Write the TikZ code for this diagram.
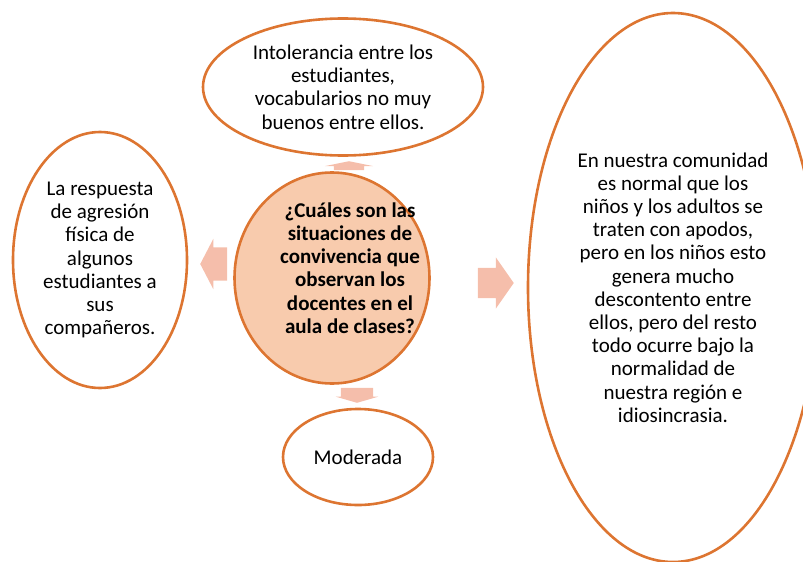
\documentclass[tikz,border=0pt]{standalone}
\usepackage{fontspec}
\setmainfont{Carlito}
\usetikzlibrary{shapes.geometric,shapes.arrows}
\definecolor{LineOrange}{HTML}{DD7531}
\definecolor{CoreFill}{HTML}{F8CBAD}
\definecolor{ArrowPink}{HTML}{F5BEAB}

\begin{document}
\begin{tikzpicture}[x=1pt,y=-1pt,
  every node/.style={font=\fontsize{21}{23.2}\selectfont},
  burbuja/.style={ellipse, draw=LineOrange, line width=2.6pt, align=center, inner sep=0pt},
  flecha/.style={single arrow, draw=none, fill=ArrowPink, inner sep=0pt, minimum width=0pt, anchor=tip}]
  \useasboundingbox (0,0) rectangle (803,562);
  \node[burbuja, minimum width=280, minimum height=137] (arriba) at (343,87)
    {Intolerancia entre los\\estudiantes,\\vocabularios no muy\\buenos entre ellos.};
  \node[burbuja, minimum width=174, minimum height=256] (izq) at (100,260)
    {La respuesta\\de agresión\\física de\\algunos\\estudiantes a\\sus\\compañeros.};
  \node[burbuja, minimum width=290, minimum height=549] (der) at (673,287.5)
    {En nuestra comunidad\\es normal que los\\niños y los adultos se\\traten con apodos,\\pero en los niños esto\\genera mucho\\descontento entre\\ellos, pero del resto\\todo ocurre bajo la\\normalidad de\\nuestra región e\\idiosincrasia.};
  \node[burbuja, minimum width=150, minimum height=96] (abajo) at (358,457) {Moderada};
  \node[burbuja, fill=CoreFill, minimum width=195, minimum height=211] (pregunta) at (332,278) {};
  \node[align=center, font=\fontsize{21}{23.2}\selectfont\bfseries] (preguntatxt) at (350,268)
    {¿Cuáles son las\\situaciones de\\convivencia que\\observan los\\docentes en el\\aula de clases?};
  \node[flecha, rotate=90, inner ysep=15pt, single arrow head extend=9pt,
    single arrow tip angle=157, minimum height=9pt] (fArriba) at (349,161) {};
  \node[flecha, rotate=180, inner ysep=16.5pt, single arrow head extend=8.5pt,
    single arrow tip angle=125, minimum height=27pt] (fIzq) at (200,264) {};
  \node[flecha, inner ysep=15pt, single arrow head extend=10.5pt,
    single arrow tip angle=110, minimum height=36pt] (fDer) at (514,283) {};
  \node[flecha, rotate=-90, inner ysep=16pt, single arrow head extend=5pt,
    single arrow tip angle=148, minimum height=15pt] (fAbajo) at (357,403) {};
\end{tikzpicture}
\end{document}
